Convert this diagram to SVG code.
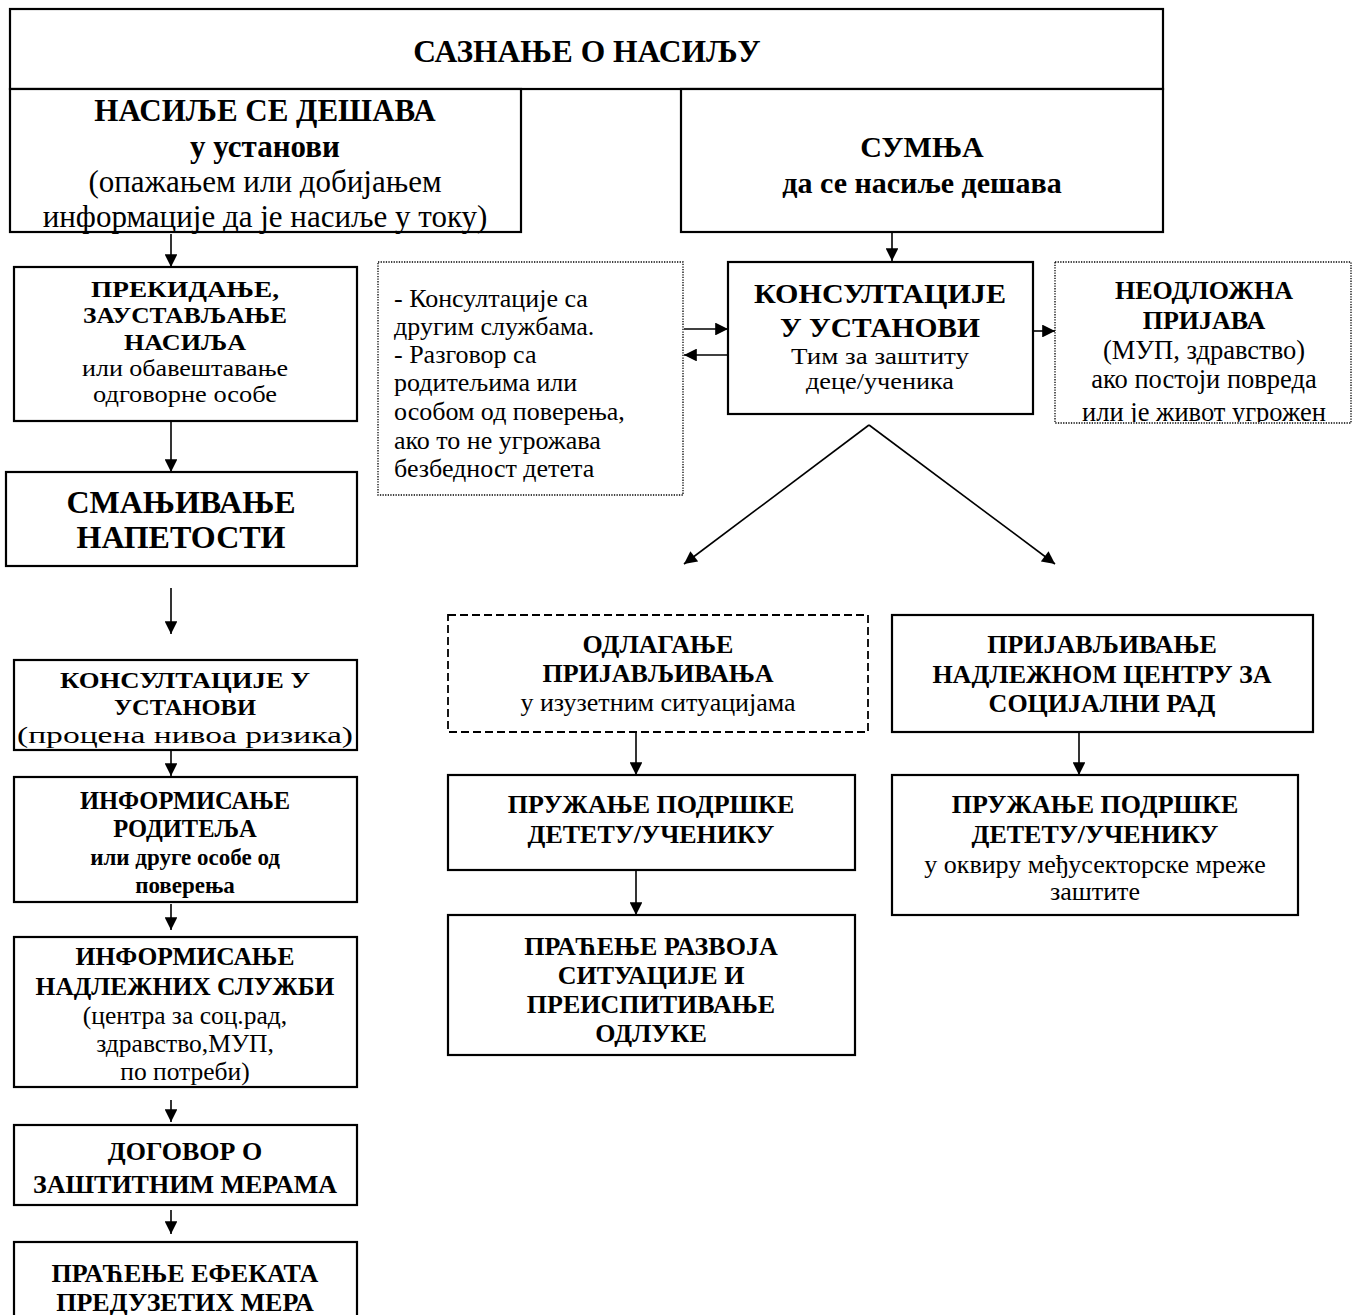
<svg xmlns="http://www.w3.org/2000/svg" width="1352" height="1315" viewBox="0 0 1352 1315">
<defs>
<style>
text{font-family:"Liberation Serif","Times New Roman",serif;fill:#000;text-anchor:middle}
.b{font-weight:bold}
.box{fill:#fff;stroke:#000;stroke-width:2.2}
.dot{fill:#fff;stroke:#000;stroke-width:1.3;stroke-dasharray:1.3 1.3}
.dash{fill:#fff;stroke:#000;stroke-width:1.8;stroke-dasharray:8 4}
.c{stroke:#000;stroke-width:1.6;fill:none;marker-end:url(#ah)}
.l{text-anchor:start}
</style>
<marker id="ah" viewBox="0 0 10 10" refX="10" refY="5" markerWidth="9" markerHeight="8" markerUnits="strokeWidth" orient="auto">
<path d="M0,0 L10,5 L0,10 z" fill="#000"/>
</marker>
<clipPath id="clipR"><rect x="1055" y="262" width="297" height="160"/></clipPath>
</defs>

<g id="connectors">
<line class="c" x1="171" y1="234" x2="171" y2="267"/>
<line class="c" x1="892" y1="233" x2="892" y2="261"/>
<line class="c" x1="171" y1="422" x2="171" y2="472"/>
<line class="c" x1="171" y1="588" x2="171" y2="634"/>
<line class="c" x1="171" y1="751" x2="171" y2="776"/>
<line class="c" x1="171" y1="904" x2="171" y2="930"/>
<line class="c" x1="171" y1="1100" x2="171" y2="1122"/>
<line class="c" x1="171" y1="1210" x2="171" y2="1234"/>
<line class="c" x1="684" y1="329" x2="728" y2="329"/>
<line class="c" x1="728" y1="355" x2="684" y2="355"/>
<line class="c" x1="1034" y1="331" x2="1055" y2="331"/>
<line class="c" x1="869" y1="425" x2="684" y2="564"/>
<line class="c" x1="869" y1="425" x2="1055" y2="564"/>
<line class="c" x1="636" y1="728" x2="636" y2="775"/>
<line class="c" x1="636" y1="871" x2="636" y2="915"/>
<line class="c" x1="1079" y1="728" x2="1079" y2="775"/>
</g>

<g id="n-top">
<rect class="box" x="10" y="9" width="1153" height="80"/>
<text class="b" x="587" y="62" font-size="31.5">САЗНАЊЕ О НАСИЉУ</text>
</g>

<g id="n-desava">
<rect class="box" x="10" y="89" width="511" height="143"/>
<text class="b" x="265" y="121" font-size="31">НАСИЉЕ СЕ ДЕШАВА</text>
<text class="b" x="265" y="157" font-size="31">у установи</text>
<text x="265" y="192" font-size="31">(опажањем или добијањем</text>
<text x="265" y="227" font-size="31">информације да је насиље у току)</text>
</g>

<g id="n-sumnja">
<rect class="box" x="681" y="89" width="482" height="143"/>
<text class="b" x="922" y="157" font-size="30">СУМЊА</text>
<text class="b" x="922" y="193" font-size="30">да се насиље дешава</text>
</g>

<g id="n-prekidanje">
<rect class="box" x="14" y="267" width="343" height="154"/>
<text class="b" x="185" y="297" font-size="23" textLength="188" lengthAdjust="spacingAndGlyphs">ПРЕКИДАЊЕ,</text>
<text class="b" x="185" y="323" font-size="23" textLength="204" lengthAdjust="spacingAndGlyphs">ЗАУСТАВЉАЊЕ</text>
<text class="b" x="185" y="350" font-size="23" textLength="122" lengthAdjust="spacingAndGlyphs">НАСИЉА</text>
<text x="185" y="376" font-size="23" textLength="206" lengthAdjust="spacingAndGlyphs">или обавештавање</text>
<text x="185" y="402" font-size="23" textLength="184" lengthAdjust="spacingAndGlyphs">одговорне особе</text>
</g>

<g id="n-smanjivanje">
<rect class="box" x="6" y="472" width="351" height="94"/>
<text class="b" x="181" y="513" font-size="32">СМАЊИВАЊЕ</text>
<text class="b" x="181" y="548" font-size="32">НАПЕТОСТИ</text>
</g>

<g id="n-konsultacije-l">
<rect class="box" x="14" y="660" width="343" height="90"/>
<text class="b" x="185" y="688" font-size="24" textLength="250" lengthAdjust="spacingAndGlyphs">КОНСУЛТАЦИЈЕ У</text>
<text class="b" x="185" y="715" font-size="24" textLength="142" lengthAdjust="spacingAndGlyphs">УСТАНОВИ</text>
<text x="185" y="743" font-size="24" textLength="336" lengthAdjust="spacingAndGlyphs">(процена нивоа ризика)</text>
</g>

<g id="n-roditelja">
<rect class="box" x="14" y="777" width="343" height="125"/>
<text class="b" x="185" y="809" font-size="24.5">ИНФОРМИСАЊЕ</text>
<text class="b" x="185" y="837" font-size="24.5">РОДИТЕЉА</text>
<text class="b" x="185" y="865" font-size="23">или друге особе од</text>
<text class="b" x="185" y="893" font-size="23">поверења</text>
</g>

<g id="n-sluzbi">
<rect class="box" x="14" y="937" width="343" height="150"/>
<text class="b" x="185" y="965" font-size="25.5">ИНФОРМИСАЊЕ</text>
<text class="b" x="185" y="995" font-size="25.5">НАДЛЕЖНИХ СЛУЖБИ</text>
<text x="185" y="1024" font-size="25.5">(центра за соц.рад,</text>
<text x="185" y="1052" font-size="25.5">здравство,МУП,</text>
<text x="185" y="1080" font-size="25.5">по потреби)</text>
</g>

<g id="n-dogovor">
<rect class="box" x="14" y="1125" width="343" height="80"/>
<text class="b" x="185" y="1160" font-size="26">ДОГОВОР О</text>
<text class="b" x="185" y="1193" font-size="26">ЗАШТИТНИМ МЕРАМА</text>
</g>

<g id="n-pracenje-efekata">
<rect class="box" x="14" y="1242" width="343" height="90"/>
<text class="b" x="185" y="1282" font-size="26">ПРАЋЕЊЕ ЕФЕКАТА</text>
<text class="b" x="185" y="1311" font-size="26">ПРЕДУЗЕТИХ МЕРА</text>
</g>

<g id="n-razgovor">
<rect class="dot" x="378" y="262" width="305" height="233"/>
<text class="l" x="394" y="307" font-size="26">- Консултације са</text>
<text class="l" x="394" y="335" font-size="26">другим службама.</text>
<text class="l" x="394" y="363" font-size="26">- Разговор са</text>
<text class="l" x="394" y="391" font-size="26">родитељима или</text>
<text class="l" x="394" y="420" font-size="26">особом од поверења,</text>
<text class="l" x="394" y="449" font-size="26">ако то не угрожава</text>
<text class="l" x="394" y="477" font-size="26">безбедност детета</text>
</g>

<g id="n-konsultacije-r">
<rect class="box" x="728" y="262" width="305" height="152"/>
<text class="b" x="880" y="303" font-size="28" textLength="252" lengthAdjust="spacingAndGlyphs">КОНСУЛТАЦИЈЕ</text>
<text class="b" x="880" y="337" font-size="28" textLength="200" lengthAdjust="spacingAndGlyphs">У УСТАНОВИ</text>
<text x="880" y="364" font-size="22.5" textLength="178" lengthAdjust="spacingAndGlyphs">Тим за заштиту</text>
<text x="880" y="389" font-size="22.5" textLength="148" lengthAdjust="spacingAndGlyphs">деце/ученика</text>
</g>

<g id="n-neodlozna">
<rect class="dot" x="1055" y="262" width="296" height="161"/>
<g clip-path="url(#clipR)">
<text class="b" x="1204" y="299" font-size="26">НЕОДЛОЖНА</text>
<text class="b" x="1204" y="329" font-size="26">ПРИЈАВА</text>
<text x="1204" y="359" font-size="26.5">(МУП, здравство)</text>
<text x="1204" y="388" font-size="26.5">ако постоји повреда</text>
<text x="1204" y="421" font-size="26.5">или је живот угрожен</text>
</g>
</g>

<g id="n-odlaganje">
<rect class="dash" x="448" y="615" width="420" height="117"/>
<text class="b" x="658" y="653" font-size="26">ОДЛАГАЊЕ</text>
<text class="b" x="658" y="682" font-size="26">ПРИЈАВЉИВАЊА</text>
<text x="658" y="711" font-size="26">у изузетним ситуацијама</text>
</g>

<g id="n-podrska-l">
<rect class="box" x="448" y="775" width="407" height="95"/>
<text class="b" x="651" y="813" font-size="26">ПРУЖАЊЕ ПОДРШКЕ</text>
<text class="b" x="651" y="843" font-size="26">ДЕТЕТУ/УЧЕНИКУ</text>
</g>

<g id="n-razvoja">
<rect class="box" x="448" y="915" width="407" height="140"/>
<text class="b" x="651" y="955" font-size="26">ПРАЋЕЊЕ РАЗВОЈА</text>
<text class="b" x="651" y="984" font-size="26">СИТУАЦИЈЕ И</text>
<text class="b" x="651" y="1013" font-size="26">ПРЕИСПИТИВАЊЕ</text>
<text class="b" x="651" y="1042" font-size="26">ОДЛУКЕ</text>
</g>

<g id="n-prijavljivanje">
<rect class="box" x="892" y="615" width="421" height="117"/>
<text class="b" x="1102" y="653" font-size="26">ПРИЈАВЉИВАЊЕ</text>
<text class="b" x="1102" y="683" font-size="26">НАДЛЕЖНОМ ЦЕНТРУ ЗА</text>
<text class="b" x="1102" y="712" font-size="26">СОЦИЈАЛНИ РАД</text>
</g>

<g id="n-podrska-r">
<rect class="box" x="892" y="775" width="406" height="140"/>
<text class="b" x="1095" y="813" font-size="26">ПРУЖАЊЕ ПОДРШКЕ</text>
<text class="b" x="1095" y="843" font-size="26">ДЕТЕТУ/УЧЕНИКУ</text>
<text x="1095" y="873" font-size="26">у оквиру међусекторске мреже</text>
<text x="1095" y="900" font-size="26">заштите</text>
</g>
</svg>
